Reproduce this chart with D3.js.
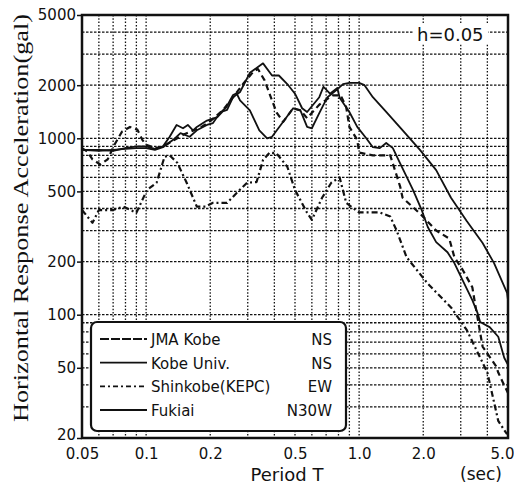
<html>
<head>
  <style>
  body {
    margin: 0;
    background: #fff;
  }
  .tick text {
    font-family: "DejaVu Sans", sans-serif;
    fill: #111;
  }
  .grid line {
    stroke: #111;
    stroke-width: 1.3px;
  }
  .curve {
    fill: none;
    stroke: #111;
    stroke-linejoin: round;
  }
  .lab {
    font-family: "DejaVu Sans", sans-serif;
    fill: #111;
  }
  </style>
</head>
<body>
<div id="chart"></div>
<script src="https://d3js.org/d3.v7.min.js"></script>
<script>

// spectra, [period (sec), acceleration (gal)]
var kobeUniv = [[0.05,860],[0.06,860],[0.07,850],[0.08,880],[0.09,900],[0.1,900],[0.11,870],[0.12,900],
  [0.129,1020],[0.139,1190],[0.149,1140],[0.157,1190],[0.166,1110],[0.173,1160],[0.193,1260],[0.216,1320],
  [0.229,1420],[0.24,1450],[0.256,1710],[0.276,1830],[0.307,2350],[0.354,2660],[0.39,2270],[0.42,2270],
  [0.46,2030],[0.5,1790],[0.54,1480],[0.57,1410],[0.65,1710],[0.68,1960],[0.73,1790],[0.79,1930],
  [0.81,1700],[0.9,1410],[0.98,1160],[1.08,1000],[1.16,890],[1.25,880],[1.34,940],[1.44,880],[1.55,730],
  [1.79,510],[1.97,390],[2.1,314],[2.3,258],[2.6,226],[2.8,196],[3.06,157],[3.4,121],[3.6,102],[3.7,91],
  [4.1,85],[4.5,75],[4.8,57],[5.0,52]];

var jmaKobe = [[0.05,880],[0.053,840],[0.056,760],[0.061,710],[0.066,760],[0.071,920],[0.077,1090],
  [0.084,1160],[0.091,1120],[0.096,980],[0.1,920],[0.11,880],[0.12,900],[0.13,950],[0.15,1050],[0.18,1150],
  [0.2,1250],[0.23,1450],[0.26,1750],[0.285,2030],[0.32,2400],[0.335,2470],[0.36,2130],[0.39,1640],
  [0.41,1400],[0.44,1240],[0.49,1480],[0.53,1440],[0.57,1300],[0.65,1550],[0.75,1750],[0.82,1750],
  [0.87,1500],[0.9,1160],[0.98,980],[1.0,830],[1.16,800],[1.4,800],[1.56,530],[1.6,460],[1.95,370],
  [2.3,300],[2.65,270],[2.8,212],[3.06,180],[3.4,143],[3.5,116],[3.8,66],[4.4,51],[4.5,47],[4.7,42],[5.0,36]];

var shinkobe = [[0.05,392],[0.056,332],[0.06,392],[0.07,392],[0.078,410],[0.09,378],[0.101,510],[0.112,560],
  [0.122,785],[0.129,800],[0.14,727],[0.155,560],[0.173,410],[0.19,410],[0.205,430],[0.24,430],[0.266,490],
  [0.298,560],[0.33,565],[0.354,754],[0.38,830],[0.41,820],[0.46,690],[0.5,510],[0.57,378],[0.6,345],
  [0.67,460],[0.74,560],[0.81,600],[0.87,430],[1.0,380],[1.25,380],[1.4,360],[1.5,300],[1.67,212],
  [2.1,150],[2.7,110],[3.2,82],[4.0,47],[4.5,25],[4.95,21]];

var fukiai = [[0.05,860],[0.06,850],[0.07,860],[0.08,870],[0.09,880],[0.1,880],[0.11,860],[0.12,890],
  [0.134,980],[0.145,1070],[0.16,1020],[0.173,1110],[0.193,1190],[0.206,1220],[0.222,1390],[0.238,1500],
  [0.256,1760],[0.266,1800],[0.276,1640],[0.307,1440],[0.34,1110],[0.37,1000],[0.39,1020],[0.44,1240],
  [0.49,1480],[0.53,1440],[0.57,1160],[0.6,1140],[0.65,1390],[0.71,1710],[0.78,1870],[0.84,2030],
  [0.9,2060],[1.0,2060],[1.06,2000],[1.16,1710],[1.35,1400],[1.59,1120],[1.93,860],[2.3,660],[2.7,460],
  [3.2,340],[3.8,255],[4.3,196],[4.95,133],[5.0,121]];

var legendNames = ["JMA Kobe", "Kobe Univ.", "Shinkobe(KEPC)", "Fukiai"];
var legendComps = ["NS", "NS", "EW", "N30W"];

var xTicks = [0.05, 0.1, 0.2, 0.5, 1.0, 2.0, 5.0];
var xTickLabels = ["0.05", "0.1", "0.2", "0.5", "1.0", "2.0", "5.0"];
var yTicks = [20, 50, 100, 200, 500, 1000, 2000, 5000];
var xGrid = [0.06, 0.07, 0.08, 0.09, 0.1, 0.2, 0.3, 0.4, 0.5, 0.6, 0.7, 0.8, 0.9, 1, 2, 3, 4];
var yGrid = [30, 40, 50, 60, 70, 80, 90, 100, 200, 300, 400, 500, 600, 700, 800, 900, 1000, 2000, 3000, 4000];

var W = 514, H = 487;
var pL = 82, pR = 508, pT = 15, pB = 438;

var svg = d3.select("#chart").append("svg")
    .attr("width", W)
    .attr("height", H);

var x = d3.scaleLog().domain([0.05, 5]).range([pL, pR]);
var y = d3.scaleLog().domain([20, 5000]).range([pB, pT]);

svg.append("clipPath").attr("id", "plot")
  .append("rect")
    .attr("x", pL).attr("y", pT)
    .attr("width", pR - pL).attr("height", pB - pT);

// dotted grid
var grid = svg.append("g").attr("class", "grid");
grid.selectAll(".gx").data(xGrid).enter().append("line")
    .attr("x1", function(d) { return x(d); })
    .attr("x2", function(d) { return x(d); })
    .attr("y1", pT).attr("y2", pB)
    .style("stroke-dasharray", "1.5,1.8");
grid.selectAll(".gy").data(yGrid).enter().append("line")
    .attr("x1", pL).attr("x2", pR)
    .attr("y1", function(d) { return y(d); })
    .attr("y2", function(d) { return y(d); })
    .style("stroke-dasharray", "2.5,1.5");

// curves
var line = d3.line()
    .x(function(d) { return x(d[0]); })
    .y(function(d) { return y(d[1]); });

var series = [
  {data: jmaKobe, dash: "6,4", w: 2.2},
  {data: kobeUniv, dash: null, w: 1.8},
  {data: shinkobe, dash: "6,3,2,3", w: 2.2},
  {data: fukiai, dash: null, w: 1.8}
];

svg.append("g").attr("clip-path", "url(#plot)")
  .selectAll("path").data(series).enter().append("path")
    .attr("class", "curve")
    .attr("d", function(d) { return line(d.data); })
    .style("stroke-width", function(d) { return d.w; })
    .style("stroke-dasharray", function(d) { return d.dash; });

// axes
var yAxis = svg.append("g")
    .attr("transform", "translate(" + pL + ",0)")
    .call(d3.axisLeft(y).tickValues(yTicks).tickFormat(d3.format("d")).tickSize(5).tickPadding(1));
yAxis.select(".domain").remove();
yAxis.selectAll(".tick line").style("stroke", "#111").style("stroke-width", 1.5);
yAxis.selectAll("text").style("font-size", "15px")
    .attr("dy", function(d) { return d === 20 ? "0.1em" : "0.32em"; });

var xAxis = svg.append("g")
    .attr("transform", "translate(0," + pB + ")")
    .call(d3.axisBottom(x).tickValues(xTicks)
      .tickFormat(function(d, i) { return xTickLabels[i]; })
      .tickSize(0).tickPadding(10));
xAxis.select(".domain").remove();
xAxis.selectAll("text").style("font-size", "15px")
    .attr("dx", function(d, i) { return i === xTicks.length - 1 ? -6 : 0; });

// frame
svg.append("rect")
    .attr("x", pL).attr("y", pT)
    .attr("width", pR - pL).attr("height", pB - pT)
    .style("fill", "none").style("stroke", "#111").style("stroke-width", 2.5);

// damping label
svg.append("rect")
    .attr("x", 414).attr("y", 25).attr("width", 74).attr("height", 19)
    .style("fill", "#fff");
svg.append("text").attr("class", "lab")
    .attr("x", 417).attr("y", 41)
    .style("font-size", "18px")
    .text("h=0.05");

// legend
var lg = svg.append("g");
lg.append("rect")
    .attr("x", 91).attr("y", 322).attr("width", 255).attr("height", 109)
    .attr("rx", 6)
    .style("fill", "#fff").style("stroke", "#111").style("stroke-width", 2.2);

var rowY = d3.scalePoint().domain(d3.range(legendNames.length)).range([339, 410]);
var lgDash = ["9,2", null, "5,3,2,3", null];

var rows = lg.selectAll(".row").data(legendNames).enter().append("g")
    .attr("transform", function(d, i) { return "translate(0," + rowY(i) + ")"; });
rows.append("line")
    .attr("x1", 100).attr("x2", 147)
    .style("stroke", "#111").style("stroke-width", 1.8)
    .style("stroke-dasharray", function(d, i) { return lgDash[i]; });
rows.append("text").attr("class", "lab")
    .attr("x", 151).attr("y", 6)
    .style("font-size", "15px")
    .text(function(d) { return d; });
rows.append("text").attr("class", "lab")
    .attr("x", 332).attr("y", 6)
    .attr("text-anchor", "end")
    .style("font-size", "15px")
    .text(function(d, i) { return legendComps[i]; });

// axis titles
svg.append("text")
    .attr("transform", "translate(28,218) rotate(-90)")
    .attr("text-anchor", "middle")
    .attr("textLength", 408)
    .attr("lengthAdjust", "spacingAndGlyphs")
    .style("font-family", "'Liberation Serif', serif")
    .style("font-size", "22px")
    .style("fill", "#111")
    .text("Horizontal Response Acceleration(gal)");

svg.append("text").attr("class", "lab")
    .attr("x", 287).attr("y", 481)
    .attr("text-anchor", "middle")
    .style("font-size", "18px")
    .text("Period T");

svg.append("text").attr("class", "lab")
    .attr("x", 481).attr("y", 480)
    .attr("text-anchor", "middle")
    .style("font-size", "17px")
    .text("(sec)");

</script>
</body>
</html>
